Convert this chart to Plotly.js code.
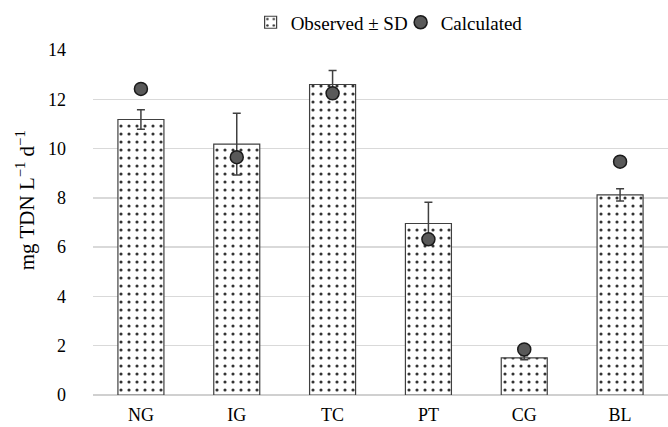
<!DOCTYPE html>
<html>
<head>
<meta charset="utf-8">
<script src="https://cdn.plot.ly/plotly-3.0.1.min.js"></script>
<style>html,body{margin:0;padding:0;background:#fff;}#chart{width:668px;height:427px;}</style>
</head>
<body>
<div id="chart"></div>
<script>
const categories = ["NG", "IG", "TC", "PT", "CG", "BL"];
const observed = [11.18, 10.18, 12.6, 6.96, 1.51, 8.12];
const observedSD = [0.40, 1.25, 0.57, 0.86, 0.08, 0.25];
const calculated = [12.42, 9.65, 12.24, 6.32, 1.85, 9.47];
const yTicks = [0, 2, 4, 6, 8, 10, 12, 14];
const yTitle = "mg TDN L<sup>−1</sup> d<sup>−1</sup>";

const font = "Liberation Serif";

const traces = [
  {
    type: "bar",
    name: "Observed ± SD",
    x: categories,
    y: observed,
    marker: {
      color: "#ffffff",
      line: {color: "#404040", width: 1.2},
      pattern: {shape: ".", fgcolor: "#333333", bgcolor: "#ffffff", size: 8, solidity: 0.12}
    },
    error_y: {type: "data", array: observedSD, visible: true, color: "#404040", thickness: 1.5, width: 4}
  },
  {
    type: "scatter",
    mode: "markers",
    name: "Calculated",
    x: categories,
    y: calculated,
    marker: {color: "#595959", size: 13, line: {color: "#1a1a1a", width: 1.5}}
  }
];

const layout = {
  width: 668,
  height: 427,
  margin: {l: 93, r: 0, t: 50, b: 32},
  paper_bgcolor: "#ffffff",
  plot_bgcolor: "#ffffff",
  font: {family: font, size: 19, color: "#000000"},
  bargap: 0.52,
  showlegend: true,
  legend: {
    orientation: "h",
    x: 0.535, xanchor: "center",
    y: 1.08, yanchor: "middle",
    font: {family: font, size: 19, color: "#000"},
    itemwidth: 30,
    entrywidth: 105,
    entrywidthmode: "pixels",
    traceorder: "normal"
  },
  xaxis: {
    type: "category",
    showgrid: false,
    showline: false,
    zeroline: false,
    ticks: "",
    ticklabelstandoff: 7,
    tickfont: {family: font, size: 18, color: "#000"},
    automargin: false
  },
  yaxis: {
    range: [0, 14],
    tickvals: yTicks,
    ticktext: yTicks.map(String),
    showgrid: true,
    gridcolor: "#d9d9d9",
    gridwidth: 1.3,
    zeroline: true,
    zerolinecolor: "#d0d0d0",
    zerolinewidth: 1.3,
    showline: false,
    ticks: "",
    ticklabelstandoff: 26,
    tickfont: {family: font, size: 18, color: "#000"},
    automargin: false
  },
  annotations: [{
    text: yTitle,
    xref: "paper", yref: "paper",
    x: -0.118, y: 0.565,
    xanchor: "center", yanchor: "middle",
    textangle: -90,
    showarrow: false,
    font: {family: font, size: 21, color: "#000"}
  }]
};

Plotly.newPlot("chart", traces, layout, {displayModeBar: false, staticPlot: true});
</script>
</body>
</html>
